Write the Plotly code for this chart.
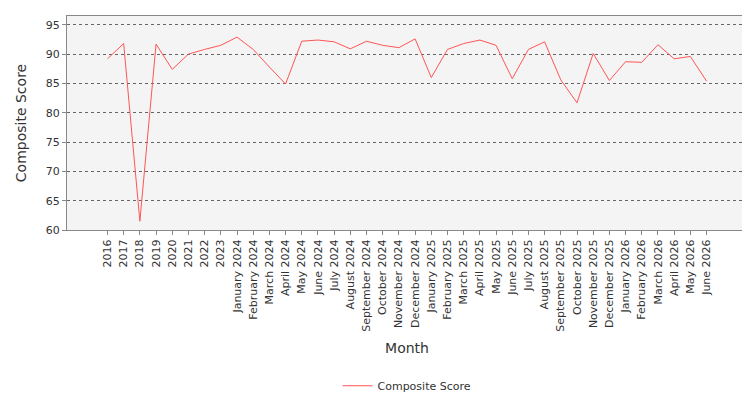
import plotly.graph_objects as go

months = ["2016","2017","2018","2019","2020","2021","2022","2023",
 "January 2024","February 2024","March 2024","April 2024","May 2024","June 2024","July 2024","August 2024","September 2024","October 2024","November 2024","December 2024",
 "January 2025","February 2025","March 2025","April 2025","May 2025","June 2025","July 2025","August 2025","September 2025","October 2025","November 2025","December 2025",
 "January 2026","February 2026","March 2026","April 2026","May 2026","June 2026"]
scores = [89.2,91.8,61.5,91.7,87.4,90.0,90.8,91.5,
 92.9,90.8,87.8,84.9,92.2,92.4,92.1,90.9,92.2,91.5,91.1,92.6,
 86.0,90.8,91.8,92.4,91.5,85.8,90.8,92.1,85.6,81.7,90.1,85.5,
 88.7,88.6,91.6,89.2,89.6,85.4]

fig = go.Figure(go.Scatter(x=months, y=scores, mode="lines", name="Composite Score",
                           line=dict(color="#ff5555", width=1)))
fig.update_layout(
    width=750, height=400, margin=dict(l=59, r=11, t=8, b=167),
    plot_bgcolor="#f4f4f4", paper_bgcolor="white",
    font=dict(family="DejaVu Sans", size=11, color="#333"),
    showlegend=True,
    legend=dict(orientation="h", x=0.5, xanchor="center", y=-0.66, yanchor="top", font=dict(size=11)),
)
fig.update_xaxes(title=dict(text="Month", font=dict(size=14), standoff=12), tickangle=-90, range=[-2.5, 39.5],
                 automargin=False,
                 showgrid=False, showline=True, linecolor="#888", mirror=True, ticks="outside", ticklen=4, tickcolor="#888")
fig.update_yaxes(title=dict(text="Composite Score", font=dict(size=14)), range=[60, 96.5], dtick=5,
                 automargin=False,
                 showgrid=True, gridcolor="#666", griddash="dot", showline=True, linecolor="#888", mirror=True,
                 ticks="outside", ticklen=4, tickcolor="#888", zeroline=False)
fig.write_html("out.html")
